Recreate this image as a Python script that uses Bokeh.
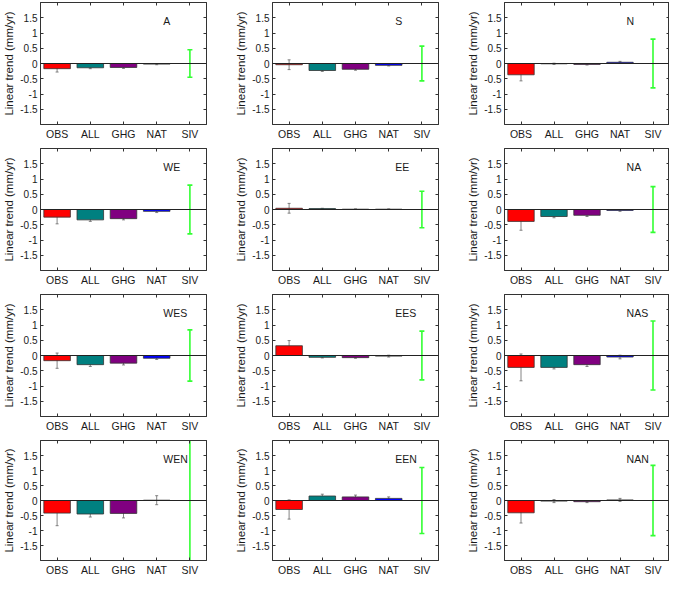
from bokeh.plotting import figure
from bokeh.layouts import column, row
from bokeh.models import (ColumnDataSource, Whisker, TeeHead, Span, FixedTicker,
                          LinearAxis, NumeralTickFormatter, Range1d)
from bokeh.core.properties import value
from bokeh.embed import file_html
from bokeh.resources import INLINE

regions = ["A", "S", "N", "WE", "EE", "NA", "WES", "EES", "NAS", "WEN", "EEN", "NAN"]
categories = ["OBS", "ALL", "GHG", "NAT", "SIV"]

obs_trend = [-0.17, -0.04, -0.37, -0.25, 0.04, -0.39, -0.17, 0.32, -0.39, -0.42, -0.30, -0.41]
obs_err = [0.11, 0.16, 0.20, 0.22, 0.16, 0.29, 0.25, 0.17, 0.44, 0.42, 0.32, 0.34]
all_trend = [-0.14, -0.23, -0.01, -0.34, 0.03, -0.23, -0.30, -0.06, -0.39, -0.45, 0.15, -0.02]
all_err = [0.03, 0.03, 0.02, 0.05, 0.01, 0.04, 0.06, 0.02, 0.05, 0.10, 0.06, 0.05]
ghg_trend = [-0.13, -0.19, -0.03, -0.30, 0.01, -0.19, -0.25, -0.07, -0.30, -0.43, 0.12, -0.04]
ghg_err = [0.03, 0.03, 0.02, 0.04, 0.01, 0.04, 0.06, 0.02, 0.06, 0.15, 0.06, 0.03]
nat_trend = [-0.02, -0.06, 0.04, -0.06, 0.01, -0.03, -0.09, -0.02, -0.05, 0.01, 0.07, 0.02]
nat_err = [0.02, 0.02, 0.03, 0.04, 0.01, 0.03, 0.04, 0.03, 0.06, 0.15, 0.05, 0.05]
siv_trend = [0.0] * 12
siv_err = [0.45, 0.57, 0.80, 0.80, 0.60, 0.75, 0.84, 0.80, 1.13, 2.5, 1.10, 1.17]

bar_colors = ["#ff0000", "#008080", "#800080", "#0000ff", "#33ff33"]
y_ticks = [-1.5, -1.0, -0.5, 0.0, 0.5, 1.0, 1.5]

FONT = "Liberation Sans"
TXT = "#1a1a1a"


def make_panel(i, col, last_row):
    left_b = 36
    frame_w = 170
    if col < 2:
        width = 232
    else:
        width = 205
    right_b = width - left_b - frame_w
    top_b = 2
    frame_h = 122
    bottom_b = 16 if last_row else 22
    height = top_b + frame_h + bottom_b

    p = figure(width=width, height=height, x_range=Range1d(0.5, 5.5), y_range=Range1d(-2, 2),
               output_backend="svg", toolbar_location=None,
               min_border_left=left_b, min_border_right=right_b,
               min_border_top=top_b, min_border_bottom=bottom_b)
    p.xgrid.visible = False
    p.ygrid.visible = False
    p.outline_line_color = "#333333"
    p.outline_line_width = 1
    p.background_fill_color = "white"
    p.border_fill_color = "white"

    trends = [obs_trend[i], all_trend[i], ghg_trend[i], nat_trend[i], siv_trend[i]]
    errs = [obs_err[i], all_err[i], ghg_err[i], nat_err[i], siv_err[i]]
    xs = [1, 2, 3, 4, 5]
    src = ColumnDataSource(dict(
        x=xs[:4], top=trends[:4], color=bar_colors[:4],
        upper=[t + e for t, e in zip(trends[:4], errs[:4])],
        lower=[t - e for t, e in zip(trends[:4], errs[:4])],
    ))
    p.vbar(x="x", top="top", bottom=0, width=0.8, fill_color="color",
           line_color="#333333", line_width=0.8, source=src)
    p.add_layout(Whisker(base="x", upper="upper", lower="lower", source=src,
                         dimension="height", line_color="#666666", line_width=0.8,
                         upper_head=TeeHead(size=3, line_color="#666666", line_width=0.8),
                         lower_head=TeeHead(size=3, line_color="#666666", line_width=0.8)))
    siv_src = ColumnDataSource(dict(x=[5], upper=[trends[4] + errs[4]], lower=[trends[4] - errs[4]]))
    p.add_layout(Whisker(base="x", upper="upper", lower="lower", source=siv_src,
                         dimension="height", line_color="#33ff33", line_width=1.6,
                         upper_head=TeeHead(size=5, line_color="#33ff33", line_width=1.6),
                         lower_head=TeeHead(size=5, line_color="#33ff33", line_width=1.6)))
    p.add_layout(Span(location=0, dimension="width", line_color="#222222", line_width=1))

    p.text(x=[4.2], y=[1.4], text=[regions[i]], text_font=value(FONT), text_font_size="10.5px",
           text_align="left", text_baseline="middle", text_color=TXT)

    xa = p.xaxis[0]
    xa.ticker = FixedTicker(ticks=xs)
    xa.major_label_overrides = {k: v for k, v in zip(xs, categories)}
    xa.major_label_text_font = FONT
    xa.major_label_text_font_size = "10.5px"
    xa.major_label_text_color = TXT
    xa.major_label_standoff = 3
    xa.major_tick_in = 3
    xa.major_tick_out = 0
    xa.minor_tick_line_color = None
    xa.axis_line_color = "#333333"
    xa.major_tick_line_color = "#333333"

    ya = p.yaxis[0]
    ya.ticker = FixedTicker(ticks=y_ticks)
    ya.formatter = NumeralTickFormatter(format="0.[0]")
    ya.major_label_text_font = FONT
    ya.major_label_text_font_size = "10px"
    ya.major_label_text_color = TXT
    ya.major_label_standoff = 3
    ya.major_tick_in = 3
    ya.major_tick_out = 0
    ya.minor_tick_line_color = None
    ya.axis_line_color = "#333333"
    ya.major_tick_line_color = "#333333"
    ya.axis_label = "Linear trend (mm/yr)"
    ya.axis_label_text_font = FONT
    ya.axis_label_text_font_size = "11.5px"
    ya.axis_label_text_font_style = "normal"
    ya.axis_label_text_color = TXT
    ya.axis_label_standoff = 2

    top_ax = LinearAxis(ticker=FixedTicker(ticks=xs), major_label_text_font_size="1px",
                        major_label_text_color=None,
                        major_label_standoff=0, major_tick_in=3, major_tick_out=0,
                        minor_tick_line_color=None, axis_line_color="#333333",
                        major_tick_line_color="#333333")
    right_ax = LinearAxis(ticker=FixedTicker(ticks=y_ticks), major_label_text_font_size="1px",
                          major_label_text_color=None,
                          major_label_standoff=0, major_tick_in=3, major_tick_out=0,
                          minor_tick_line_color=None, axis_line_color="#333333",
                          major_tick_line_color="#333333")
    p.add_layout(top_ax, "above")
    p.add_layout(right_ax, "right")
    return p


rows = []
for r in range(4):
    figs = [make_panel(r * 3 + c, c, r == 3) for c in range(3)]
    rows.append(row(*figs))
layout = column(*rows)

open("out.html", "w").write(file_html(layout, INLINE))
